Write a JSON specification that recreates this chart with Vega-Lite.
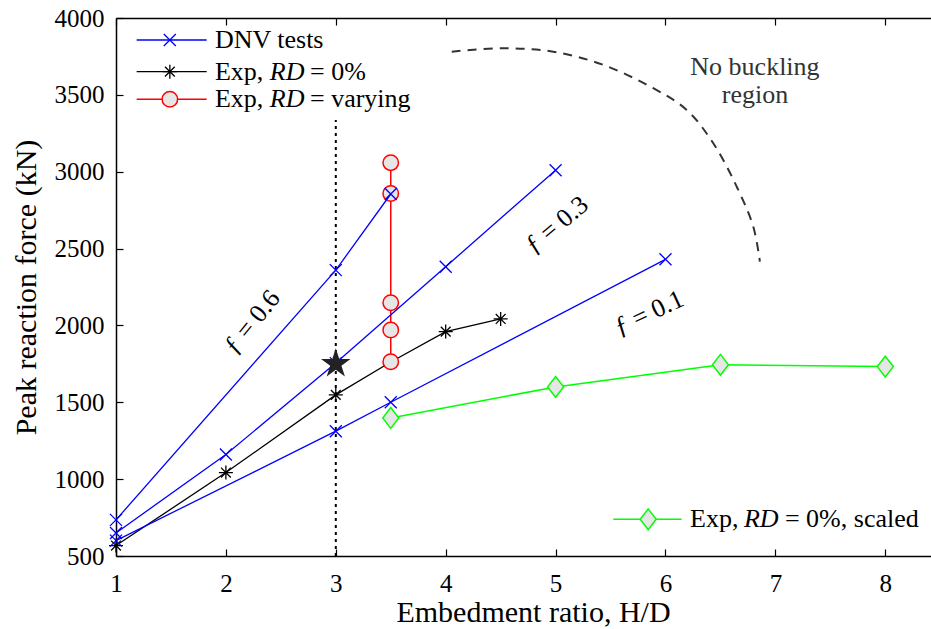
{
  "$schema": "https://vega.github.io/schema/vega-lite/v6.json",
  "width": 815,
  "height": 538,
  "autosize": {"type": "none"},
  "padding": {"left": 116, "top": 18, "right": 0, "bottom": 73},
  "background": "white",
  "config": {
    "view": {"stroke": null},
    "font": "Liberation Serif",
    "axis": {
      "grid": false,
      "domainColor": "black",
      "domainWidth": 1.5,
      "tickColor": "black",
      "tickWidth": 1.2,
      "tickSize": -7,
      "labelFlush": false,
      "labelColor": "black",
      "labelFont": "Liberation Serif",
      "labelFontSize": 25,
      "titleFont": "Liberation Serif",
      "titleFontSize": 30,
      "titleFontWeight": "normal",
      "titleColor": "black"
    }
  },
  "datasets": {
    "series": [
      {"s": "f06", "x": 1, "y": 735},
      {"s": "f06", "x": 3, "y": 2360},
      {"s": "f06", "x": 3.5, "y": 2855},
      {"s": "f03", "x": 1, "y": 650},
      {"s": "f03", "x": 2, "y": 1160},
      {"s": "f03", "x": 3, "y": 1755},
      {"s": "f03", "x": 4, "y": 2382},
      {"s": "f03", "x": 5, "y": 3010},
      {"s": "f01", "x": 1, "y": 600},
      {"s": "f01", "x": 3, "y": 1312},
      {"s": "f01", "x": 3.5, "y": 1500},
      {"s": "f01", "x": 6, "y": 2430},
      {"s": "exp0", "x": 1, "y": 568},
      {"s": "exp0", "x": 2, "y": 1043},
      {"s": "exp0", "x": 3, "y": 1548},
      {"s": "exp0", "x": 3.5, "y": 1762},
      {"s": "exp0", "x": 4, "y": 1960},
      {"s": "exp0", "x": 4.5, "y": 2042},
      {"s": "expv", "x": 3.5, "y": 1764},
      {"s": "expv", "x": 3.5, "y": 1970},
      {"s": "expv", "x": 3.5, "y": 2148},
      {"s": "expv", "x": 3.5, "y": 2858},
      {"s": "expv", "x": 3.5, "y": 3059},
      {"s": "scaled", "x": 3.5, "y": 1398},
      {"s": "scaled", "x": 5, "y": 1600},
      {"s": "scaled", "x": 6.5, "y": 1744},
      {"s": "scaled", "x": 8, "y": 1732}
    ],
    "star": [{"x": 3, "y": 1750}],
    "vline": [{"x": 3, "y": 500, "y2": 3337}],
    "arc": [
      {"i": 0, "x": 4.055, "y": 3781},
      {"i": 1, "x": 4.524, "y": 3803},
      {"i": 2, "x": 4.979, "y": 3781},
      {"i": 3, "x": 5.434, "y": 3695},
      {"i": 4, "x": 5.889, "y": 3543},
      {"i": 5, "x": 6.193, "y": 3402},
      {"i": 6, "x": 6.435, "y": 3185},
      {"i": 7, "x": 6.648, "y": 2903},
      {"i": 8, "x": 6.799, "y": 2642},
      {"i": 9, "x": 6.859, "y": 2415}
    ],
    "flabels": [
      {"k": "f06", "x": 2.237, "y": 2022, "text": "ƒ = 0.6"},
      {"k": "f03", "x": 5.01, "y": 2654, "text": "ƒ = 0.3"},
      {"k": "f01", "x": 5.85, "y": 2081, "text": "ƒ = 0.1"}
    ],
    "note": [{"x": 6.814, "y": 3681, "text": "No buckling\nregion"}],
    "legLines": [
      {"k": "dnv", "x": 1.188, "x2": 1.825, "y": 3857},
      {"k": "exp0", "x": 1.188, "x2": 1.825, "y": 3651},
      {"k": "expv", "x": 1.188, "x2": 1.825, "y": 3471},
      {"k": "scaled", "x": 5.525, "x2": 6.147, "y": 739}
    ],
    "legSym": [
      {"k": "dnv", "x": 1.49, "y": 3857},
      {"k": "exp0", "x": 1.49, "y": 3651},
      {"k": "expv", "x": 1.49, "y": 3471},
      {"k": "scaled", "x": 5.843, "y": 739}
    ],
    "legText": [
      {"x": 1.9, "y": 3857, "text": "DNV tests", "it": false},
      {"x": 1.9, "y": 3651, "text": "Exp,", "it": false},
      {"x": 2.4, "y": 3651, "text": "RD", "it": true},
      {"x": 2.765, "y": 3651, "text": "= 0%", "it": false},
      {"x": 1.9, "y": 3471, "text": "Exp,", "it": false},
      {"x": 2.4, "y": 3471, "text": "RD", "it": true},
      {"x": 2.765, "y": 3471, "text": "= varying", "it": false},
      {"x": 6.223, "y": 739, "text": "Exp,", "it": false},
      {"x": 6.714, "y": 739, "text": "RD", "it": true},
      {"x": 7.087, "y": 739, "text": "= 0%, scaled", "it": false}
    ]
  },
  "resolve": {"axis": {"x": "independent", "y": "independent"}},
  "encoding": {
    "x": {"field": "x", "type": "quantitative", "scale": {"domain": [1, 8.416], "nice": false, "zero": false}, "axis": null},
    "y": {"field": "y", "type": "quantitative", "scale": {"domain": [500, 4000], "nice": false, "zero": false}, "axis": null}
  },
  "layer": [
    {
      "data": {"name": "vline"},
      "mark": {"type": "rule", "color": "black", "strokeWidth": 2, "strokeDash": [3, 4]},
      "encoding": {
        "x": {"field": "x", "type": "quantitative", "scale": {"domain": [1, 8.416], "nice": false, "zero": false},
          "axis": {"orient": "bottom", "values": [1, 2, 3, 4, 5, 6, 7, 8], "format": "d", "labelPadding": 22, "title": "Embedment ratio, H/D", "titlePadding": 1, "titleX": 417}},
        "y": {"field": "y", "type": "quantitative", "scale": {"domain": [500, 4000], "nice": false, "zero": false},
          "axis": {"orient": "left", "values": [500, 1000, 1500, 2000, 2500, 3000, 3500, 4000], "format": "d", "labelPadding": 19, "title": "Peak reaction force (kN)", "titlePadding": 13}},
        "y2": {"field": "y2"}
      }
    },
    {
      "data": {"name": "arc"},
      "mark": {"type": "line", "color": "#333333", "strokeWidth": 2, "strokeDash": [9, 7], "interpolate": "catmull-rom"},
      "encoding": {
        "x": {"field": "x", "type": "quantitative", "scale": {"domain": [1, 8.416], "nice": false, "zero": false},
          "axis": {"orient": "top", "values": [1, 2, 3, 4, 5, 6, 7, 8], "labels": false, "title": null}},
        "order": {"field": "i"}
      }
    },
    {
      "data": {"name": "series"},
      "transform": [{"filter": {"field": "s", "equal": "exp0"}}],
      "mark": {"type": "line", "color": "black", "strokeWidth": 1.3},
      "encoding": {"order": [{"field": "x"}, {"field": "y"}]}
    },
    {
      "data": {"name": "series"},
      "transform": [{"filter": {"field": "s", "equal": "exp0"}}],
      "mark": {"type": "point", "shape": "M0,-1L0,1M-1,0L1,0M-0.7,-0.7L0.7,0.7M-0.7,0.7L0.7,-0.7", "filled": false, "stroke": "black", "strokeWidth": 1.3, "size": 196, "opacity": 1}
    },
    {
      "data": {"name": "series"},
      "transform": [{"filter": {"field": "s", "equal": "expv"}}],
      "mark": {"type": "line", "color": "#ff0000", "strokeWidth": 1.5},
      "encoding": {"order": [{"field": "y"}]}
    },
    {
      "data": {"name": "series"},
      "transform": [{"filter": {"field": "s", "equal": "expv"}}],
      "mark": {"type": "point", "shape": "circle", "filled": true, "fill": "#e6e6e6", "stroke": "#ff0000", "strokeWidth": 1.5, "size": 240, "opacity": 1, "fillOpacity": 1}
    },
    {
      "data": {"name": "series"},
      "transform": [{"filter": {"field": "s", "equal": "scaled"}}],
      "mark": {"type": "line", "color": "#00ff00", "strokeWidth": 1.5},
      "encoding": {"order": [{"field": "x"}]}
    },
    {
      "data": {"name": "series"},
      "transform": [{"filter": {"field": "s", "equal": "scaled"}}],
      "mark": {"type": "point", "shape": "M0,-1.3L1,0L0,1.3L-1,0Z", "filled": true, "fill": "#e6e6e6", "stroke": "#00ff00", "strokeWidth": 1.5, "size": 256, "opacity": 1, "fillOpacity": 1}
    },
    {
      "data": {"name": "series"},
      "transform": [{"filter": {"field": "s", "oneOf": ["f06", "f03", "f01"]}}],
      "mark": {"type": "line", "color": "#0000ff", "strokeWidth": 1.3},
      "encoding": {"detail": {"field": "s"}, "order": [{"field": "x"}]}
    },
    {
      "data": {"name": "series"},
      "transform": [{"filter": {"field": "s", "oneOf": ["f06", "f03", "f01"]}}],
      "mark": {"type": "point", "shape": "M-1,-1L1,1M-1,1L1,-1", "filled": false, "stroke": "#0000ff", "strokeWidth": 1.3, "size": 144, "opacity": 1}
    },
    {
      "data": {"name": "star"},
      "mark": {"type": "point", "shape": "M0,-1L0.2245,-0.309L0.951,-0.309L0.363,0.118L0.588,0.809L0,0.382L-0.588,0.809L-0.363,0.118L-0.951,-0.309L-0.2245,-0.309Z", "filled": true, "fill": "#222222", "strokeWidth": 0, "size": 961, "opacity": 1}
    },
    {
      "data": {"name": "flabels"},
      "transform": [{"filter": {"field": "k", "equal": "f06"}}],
      "mark": {"type": "text", "font": "Liberation Serif", "fontSize": 26, "color": "black", "angle": 309, "align": "center", "baseline": "middle"},
      "encoding": {"text": {"field": "text"}}
    },
    {
      "data": {"name": "flabels"},
      "transform": [{"filter": {"field": "k", "equal": "f03"}}],
      "mark": {"type": "text", "font": "Liberation Serif", "fontSize": 26, "color": "black", "angle": 320, "align": "center", "baseline": "middle"},
      "encoding": {"text": {"field": "text"}}
    },
    {
      "data": {"name": "flabels"},
      "transform": [{"filter": {"field": "k", "equal": "f01"}}],
      "mark": {"type": "text", "font": "Liberation Serif", "fontSize": 26, "color": "black", "angle": 335, "align": "center", "baseline": "middle"},
      "encoding": {"text": {"field": "text"}}
    },
    {
      "data": {"name": "note"},
      "mark": {"type": "text", "font": "Liberation Serif", "fontSize": 26, "color": "#333333", "align": "center", "baseline": "middle", "lineBreak": "\n", "lineHeight": 28},
      "encoding": {"text": {"field": "text"}}
    },
    {
      "data": {"name": "legLines"},
      "transform": [{"filter": {"field": "k", "equal": "dnv"}}],
      "mark": {"type": "rule", "color": "#0000ff", "strokeWidth": 1.3},
      "encoding": {"x2": {"field": "x2"}}
    },
    {
      "data": {"name": "legLines"},
      "transform": [{"filter": {"field": "k", "equal": "exp0"}}],
      "mark": {"type": "rule", "color": "black", "strokeWidth": 1.3},
      "encoding": {"x2": {"field": "x2"}}
    },
    {
      "data": {"name": "legLines"},
      "transform": [{"filter": {"field": "k", "equal": "expv"}}],
      "mark": {"type": "rule", "color": "#ff0000", "strokeWidth": 1.5},
      "encoding": {"x2": {"field": "x2"}}
    },
    {
      "data": {"name": "legLines"},
      "transform": [{"filter": {"field": "k", "equal": "scaled"}}],
      "mark": {"type": "rule", "color": "#00ff00", "strokeWidth": 1.5},
      "encoding": {"x2": {"field": "x2"}}
    },
    {
      "data": {"name": "legSym"},
      "transform": [{"filter": {"field": "k", "equal": "dnv"}}],
      "mark": {"type": "point", "shape": "M-1,-1L1,1M-1,1L1,-1", "filled": false, "stroke": "#0000ff", "strokeWidth": 1.3, "size": 144, "opacity": 1}
    },
    {
      "data": {"name": "legSym"},
      "transform": [{"filter": {"field": "k", "equal": "exp0"}}],
      "mark": {"type": "point", "shape": "M0,-1L0,1M-1,0L1,0M-0.7,-0.7L0.7,0.7M-0.7,0.7L0.7,-0.7", "filled": false, "stroke": "black", "strokeWidth": 1.3, "size": 196, "opacity": 1}
    },
    {
      "data": {"name": "legSym"},
      "transform": [{"filter": {"field": "k", "equal": "expv"}}],
      "mark": {"type": "point", "shape": "circle", "filled": true, "fill": "#e6e6e6", "stroke": "#ff0000", "strokeWidth": 1.5, "size": 240, "opacity": 1, "fillOpacity": 1}
    },
    {
      "data": {"name": "legSym"},
      "transform": [{"filter": {"field": "k", "equal": "scaled"}}],
      "mark": {"type": "point", "shape": "M0,-1.3L1,0L0,1.3L-1,0Z", "filled": true, "fill": "#e6e6e6", "stroke": "#00ff00", "strokeWidth": 1.5, "size": 256, "opacity": 1, "fillOpacity": 1}
    },
    {
      "data": {"name": "legText"},
      "transform": [{"filter": "!datum.it"}],
      "mark": {"type": "text", "font": "Liberation Serif", "fontSize": 26, "color": "black", "align": "left", "baseline": "middle"},
      "encoding": {"text": {"field": "text"}}
    },
    {
      "data": {"name": "legText"},
      "transform": [{"filter": "datum.it"}],
      "mark": {"type": "text", "font": "Liberation Serif", "fontSize": 26, "fontStyle": "italic", "color": "black", "align": "left", "baseline": "middle"},
      "encoding": {"text": {"field": "text"}}
    }
  ]
}
